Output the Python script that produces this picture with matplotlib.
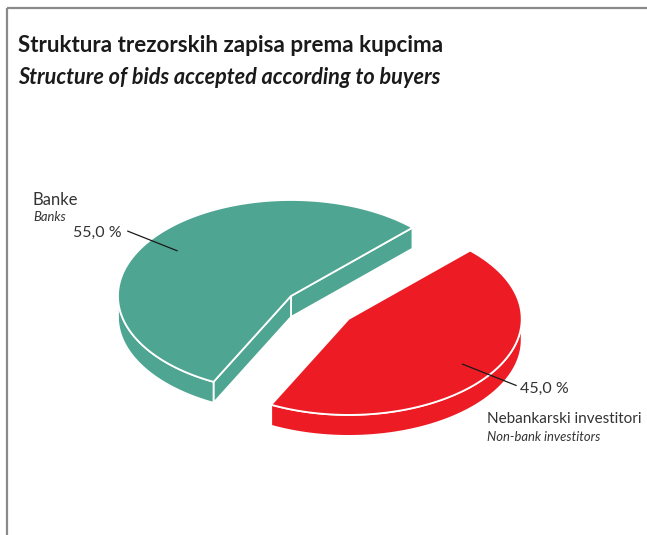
import numpy as np
import matplotlib.pyplot as plt
from matplotlib.patches import Polygon, Rectangle

# data
labels_hr = ['Banke', 'Nebankarski investitori']
labels_en = ['Banks', 'Non-bank investitors']
values = [55.0, 45.0]
colors = ['#4ea592', '#ed1c24']
explode = [0.0, 0.41]

title_hr = 'Struktura trezorskih zapisa prema kupcima'
title_en = 'Structure of bids accepted according to buyers'

plt.rcParams['font.family'] = ['Lato', 'DejaVu Sans']

fig = plt.figure(figsize=(6.47, 5.35), dpi=100)
ax = fig.add_axes([0, 0, 1, 1])
ax.set_xlim(0, 647)
ax.set_ylim(535, 0)
ax.axis('off')

# frame
ax.add_patch(Rectangle((7, 8), 660, 560, fill=False, edgecolor='#8a8a8a', lw=1.6))

ax.text(18, 46, title_hr, fontsize=16.1, fontweight='bold', color='#1a1a1a', va='center')
ax.text(18, 77, title_en, fontsize=15.6, fontweight='bold', style='italic', color='#1a1a1a', va='center')

# pie geometry (pixels)
cx, cy = 291, 296
a, b, depth = 173, 96, 21
start = 45.4


def pt(x0, y0, t, r=1.0, dy=0):
    return (x0 + r * a * np.cos(t), y0 - r * b * np.sin(t) + dy)


def draw_slice(x0, y0, t1, t2, color):
    kw = dict(facecolor=color, edgecolor='white', lw=1.3, joinstyle='round')
    # radial side faces
    if np.cos(t1) > 0:
        p = pt(x0, y0, t1)
        ax.add_patch(Polygon([(x0, y0), p, (p[0], p[1] + depth), (x0, y0 + depth)], **kw))
    if np.cos(t2) < 0:
        p = pt(x0, y0, t2)
        ax.add_patch(Polygon([(x0, y0), p, (p[0], p[1] + depth), (x0, y0 + depth)], **kw))
    # outer wall, front part only
    t = np.linspace(t1, t2, 400)
    vis = np.sin(t) < 0
    runs = []
    cur = []
    for ti, v in zip(t, vis):
        if v:
            cur.append(ti)
        elif cur:
            runs.append(cur)
            cur = []
    if cur:
        runs.append(cur)
    for run in runs:
        run = np.array(run)
        upper = [pt(x0, y0, ti) for ti in run]
        lower = [pt(x0, y0, ti, dy=depth) for ti in run[::-1]]
        ax.add_patch(Polygon(upper + lower, **kw))
    # top face
    top = [(x0, y0)] + [pt(x0, y0, ti) for ti in t]
    ax.add_patch(Polygon(top, **kw))


total = sum(values)
angle = start
centers = []
mids = []
for v, col, ex in zip(values, colors, explode):
    span = 360 * v / total
    t1, t2 = np.radians(angle), np.radians(angle + span)
    mid = (t1 + t2) / 2
    x0 = cx + ex * a * np.cos(mid)
    y0 = cy - ex * b * np.sin(mid)
    draw_slice(x0, y0, t1, t2, col)
    centers.append((x0, y0))
    mids.append(mid)
    angle += span

# leader lines and labels
txt = '#333333'
for i, (v, (x0, y0), mid) in enumerate(zip(values, centers, mids)):
    p1 = pt(x0, y0, mid, r=0.81)
    p2 = pt(x0, y0, mid, r=1.16 if i == 0 else 1.19)
    ax.plot([p1[0], p2[0]], [p1[1], p2[1]], color='#1a1a1a', lw=0.9)
    pct = f'{v:.1f}'.replace('.', ',') + ' %'
    if i == 0:
        ax.text(p2[0] - 6, p2[1] + 2, pct, fontsize=11.5, color=txt, ha='right', va='center')
        ax.text(33, 200, labels_hr[i], fontsize=12, color=txt, va='center')
        ax.text(33, 217, labels_en[i], fontsize=9.4, style='italic', color=txt, va='center')
    else:
        ax.text(p2[0] + 4, p2[1] + 3, pct, fontsize=11.5, color=txt, ha='left', va='center')
        ax.text(487, 419, labels_hr[i], fontsize=11, color=txt, va='center')
        ax.text(487, 437, labels_en[i], fontsize=9.4, style='italic', color=txt, va='center')

fig.savefig('out.png', dpi=100)
